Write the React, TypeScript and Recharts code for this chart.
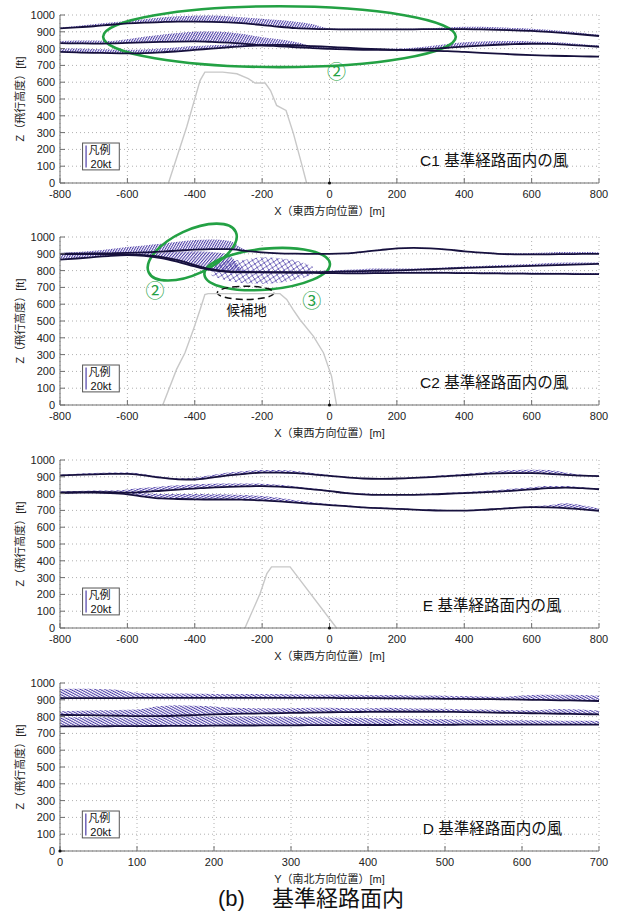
import React from 'react'
import { ComposedChart, Line, Area, XAxis, YAxis, CartesianGrid, ReferenceArea, ReferenceDot } from 'recharts'

const HATCH = '#4d3ea8'
const PATH = '#16103d'
const GREEN = '#23a144'
const TERRAIN = '#c8c8c8'
const AXIS = '#6e6e6e'
const FONT = "'Liberation Sans', 'Noto Sans CJK JP', sans-serif"

const zTicks = [0, 100, 200, 300, 400, 500, 600, 700, 800, 900, 1000]
const ewTicks = [-800, -600, -400, -200, 0, 200, 400, 600, 800]
const nsTicks = [0, 100, 200, 300, 400, 500, 600, 700]

// sample positions along the reference path (m)
const xEW = [-800, -750, -700, -650, -600, -550, -500, -450, -400, -350, -300, -250, -200, -150, -100, -50, 0,
  50, 100, 150, 200, 250, 300, 350, 400, 450, 500, 550, 600, 650, 700, 750, 800]
const xNS = [0, 25, 50, 75, 100, 125, 150, 175, 200, 225, 250, 275, 300, 325, 350, 375, 400, 425, 450, 475, 500,
  525, 550, 575, 600, 625, 650, 675, 700]

// C1: flight altitude (ft) and wind barb tip envelope (ft)
const c1Top = [920, 926, 933, 942, 950, 955, 958, 960, 960, 959, 956, 950, 940, 930, 922, 918, 916, 915, 915, 915, 915, 915, 916, 916, 916, 914, 912, 909, 905, 899, 892, 884, 875]
const c1TopTip = [925, 935, 945, 955, 965, 975, 985, 992, 995, 997, 993, 985, 978, 970, 960, 945, 920, 918, 918, 918, 918, 918, 920, 927, 930, 930, 927, 922, 918, 912, 903, 893, 882]
const c1Mid = [832, 831, 830, 831, 834, 837, 840, 842, 843, 840, 835, 828, 820, 814, 808, 803, 798, 795, 793, 792, 792, 794, 798, 805, 812, 818, 823, 827, 829, 828, 824, 818, 811]
const c1MidTip = [845, 848, 848, 845, 855, 870, 883, 893, 900, 902, 898, 885, 868, 855, 840, 815, 805, 800, 800, 798, 800, 805, 815, 828, 838, 842, 845, 845, 843, 840, 835, 826, 818]
const c1Low = [780, 777, 775, 773, 772, 773, 777, 784, 792, 800, 808, 815, 820, 822, 820, 815, 810, 805, 800, 796, 792, 790, 788, 785, 780, 775, 770, 765, 761, 758, 756, 754, 752]
const c1LowTip = [800, 800, 797, 795, 793, 795, 800, 808, 815, 820, 825, 828, 828, 825, 822, 817, 812, 806, 802, 797, 793, 791, 789, 786, 782, 777, 772, 767, 763, 760, 758, 756, 754]

// C2
const c2Top = [900, 901, 902, 903, 905, 908, 913, 919, 925, 928, 928, 918, 908, 903, 901, 900, 900, 902, 912, 922, 932, 935, 932, 925, 915, 907, 900, 897, 897, 897, 898, 899, 900]
const c2TopTip = [905, 910, 918, 928, 940, 950, 960, 972, 982, 985, 978, 925, 910, 905, 903, 902, 902, 905, 915, 925, 935, 938, 935, 928, 918, 910, 905, 903, 905, 908, 910, 910, 908]
const c2Mid = [898, 898, 898, 897, 896, 892, 882, 862, 833, 808, 795, 792, 791, 791, 791, 791, 792, 795, 797, 799, 801, 804, 808, 812, 816, 819, 822, 825, 828, 831, 834, 837, 840]
const c2MidTip = [905, 906, 906, 905, 903, 905, 908, 912, 915, 910, 895, 800, 798, 798, 798, 797, 800, 805, 810, 812, 812, 812, 815, 820, 825, 828, 832, 836, 840, 845, 848, 848, 848]
const c2Low = [865, 872, 880, 888, 892, 888, 875, 852, 825, 803, 793, 790, 789, 788, 787, 786, 785, 784, 784, 785, 786, 787, 787, 786, 785, 784, 783, 782, 781, 780, 780, 779, 779]
const c2LowTip = [895, 898, 900, 900, 898, 893, 882, 860, 832, 810, 798, 795, 794, 793, 792, 792, 792, 793, 795, 796, 795, 794, 794, 793, 792, 791, 790, 789, 788, 787, 787, 786, 786]
// turbulent area (3) near the landing site
const c2GustX = [-350, -300, -250, -200, -150, -100, -50]
const c2GustLo = [770, 740, 725, 722, 728, 745, 775]
const c2GustHi = [845, 860, 865, 880, 875, 860, 825]

// E
const eTop = [908, 912, 915, 918, 918, 908, 895, 885, 884, 895, 908, 918, 925, 925, 922, 915, 906, 897, 890, 888, 890, 894, 898, 904, 910, 916, 920, 922, 922, 918, 912, 907, 904]
const eTopTip = [912, 918, 922, 925, 925, 915, 900, 892, 895, 910, 925, 935, 940, 940, 935, 922, 910, 900, 893, 891, 893, 898, 903, 910, 917, 926, 935, 940, 942, 940, 925, 912, 908]
const eMid = [805, 808, 810, 808, 806, 810, 817, 824, 830, 836, 840, 843, 845, 842, 835, 825, 815, 803, 795, 792, 792, 793, 795, 799, 803, 807, 812, 818, 825, 832, 836, 832, 826]
const eMidTip = [812, 815, 818, 818, 825, 835, 843, 850, 855, 858, 860, 860, 858, 852, 843, 832, 820, 808, 800, 797, 797, 798, 800, 805, 810, 815, 822, 830, 838, 845, 845, 838, 830]
const eLow = [805, 806, 806, 803, 796, 782, 771, 768, 766, 765, 765, 763, 760, 754, 746, 739, 732, 725, 718, 713, 709, 705, 701, 699, 699, 703, 709, 715, 719, 718, 714, 706, 698]
const eLowTip = [810, 812, 812, 810, 808, 802, 798, 797, 797, 796, 795, 792, 785, 775, 760, 748, 738, 730, 722, 717, 713, 709, 705, 703, 703, 707, 713, 719, 724, 730, 742, 730, 710]

// D (north-south)
const dTop = [910, 910, 910, 910, 911, 911, 911, 911, 912, 912, 912, 912, 912, 911, 911, 910, 910, 909, 908, 907, 906, 905, 904, 903, 901, 899, 897, 895, 893]
const dTopTip = [965, 966, 965, 960, 942, 938, 937, 936, 935, 935, 934, 934, 933, 932, 931, 930, 929, 928, 927, 925, 924, 922, 920, 918, 925, 930, 930, 928, 924]
const dMid = [810, 809, 807, 805, 803, 803, 805, 809, 813, 816, 818, 820, 822, 824, 826, 827, 828, 829, 829, 829, 828, 827, 825, 823, 821, 819, 817, 815, 813]
const dMidTip = [832, 835, 838, 840, 842, 860, 868, 865, 860, 852, 850, 850, 850, 852, 852, 850, 850, 852, 850, 848, 846, 844, 842, 840, 838, 840, 845, 842, 836]
const dLow = [742, 742, 742, 743, 743, 744, 745, 745, 746, 747, 747, 748, 748, 749, 749, 750, 750, 750, 751, 751, 751, 752, 752, 752, 752, 752, 752, 752, 752]
const dLowTip = [795, 796, 796, 795, 794, 795, 798, 800, 800, 800, 800, 799, 798, 796, 795, 793, 792, 790, 788, 786, 784, 782, 780, 779, 778, 777, 776, 775, 774]

// terrain profiles [x, z]
const terrainC1 = [[-478, 0], [-424, 333], [-384, 611], [-370, 660], [-317, 660], [-275, 650], [-241, 621], [-221, 595], [-191, 595], [-175, 550], [-157, 462], [-129, 432], [-107, 294], [-83, 115], [-68, 0]]
const terrainC2 = [[-495, 0], [-454, 212], [-429, 311], [-404, 450], [-384, 568], [-370, 657], [-360, 663], [-147, 663], [-127, 628], [-108, 568], [-88, 509], [-48, 410], [-18, 311], [6, 172], [21, 0]]
const terrainE = [[-251, 0], [-206, 205], [-186, 324], [-172, 364], [-117, 364], [21, 0]]

const line = (xs: number[], z: number[]) => xs.map((x, i) => ({ x, z: z[i] }))
const band = (xs: number[], lo: number[], hi: number[]) => xs.map((x, i) => ({ x, r: [lo[i], hi[i]] }))
const outline = (p: number[][]) => p.map(([x, z]) => ({ x, z }))

function patterns(id: string) {
  const hatch = (name: string, angle: number, gap: number) => (
    <pattern key={name} id={`${id}-${name}`} width={gap} height={8} patternUnits="userSpaceOnUse" patternTransform={`rotate(${angle})`}>
      <line x1={0.5} y1={0} x2={0.5} y2={8} stroke={HATCH} strokeWidth={1.1} />
    </pattern>
  )
  return (
    <defs>
      {hatch('steep', 30, 2.2)}
      {hatch('mid', 40, 2.3)}
      {hatch('flat', 68, 2.2)}
      {hatch('back', -62, 2.3)}
      <pattern id={`${id}-cross`} width={6} height={6} patternUnits="userSpaceOnUse" patternTransform="rotate(12)">
        <path d="M0,0 L6,6 M6,0 L0,6" stroke={HATCH} strokeWidth={0.8} />
      </pattern>
    </defs>
  )
}

const legendBox = (p: any) => (
  <g>
    <rect x={p.x} y={p.y} width={p.width} height={p.height} fill="#fff" stroke="#555" />
    <line x1={p.x + 3.5} x2={p.x + 3.5} y1={p.y + 2.5} y2={p.y + p.height - 2.5} stroke={HATCH} strokeWidth={1.2} />
    <text x={p.x + 6} y={p.y + 11} fontSize={11} fill="#111">凡例</text>
    <text x={p.x + 8} y={p.y + 24.5} fontSize={11} fill="#111" fontFamily="'Liberation Sans', sans-serif">20kt</text>
  </g>
)

const ring = (angle: number, color: string, width: number, dash?: string) => (p: any) => {
  const cx = p.x + p.width / 2
  const cy = p.y + p.height / 2
  return (
    <ellipse cx={cx} cy={cy} rx={Math.abs(p.width) / 2} ry={Math.abs(p.height) / 2} fill="none" stroke={color}
      strokeWidth={width} strokeDasharray={dash} transform={`rotate(${angle} ${cx} ${cy})`} />
  )
}

const note = (key: string, x: number, z: number, text: string, color: string, size: number, position: any = 'center') => (
  <ReferenceDot key={key} x={x} y={z} r={0} fill="none" stroke="none" ifOverflow="visible"
    label={{ value: text, position, offset: 0, fill: color, fontSize: size }} />
)

type PanelProps = {
  id: string
  top: number
  domain: [number, number]
  ticks: number[]
  xTitle: string
  bands: { data: any[]; pat: string }[]
  paths: any[][]
  terrain?: any[]
  legend: [number, number]
  caption: string
  captionX: number
  extras?: React.ReactNode[]
}

function Panel({ id, top, domain, ticks, xTitle, bands, paths, terrain, legend, caption, captionX, extras = [] }: PanelProps) {
  return (
    <div style={{ position: 'absolute', left: 0, top }}>
      <ComposedChart width={618} height={223} margin={{ top: 15, right: 19, bottom: 10, left: 0 }}>
        {patterns(id)}
        <CartesianGrid stroke="#b0b0b0" strokeDasharray="1 3" />
        <XAxis dataKey="x" type="number" domain={domain} ticks={ticks} interval={0} height={30} tickSize={-5} tickMargin={12}
          tick={{ fontSize: 11, fill: '#222' }} stroke={AXIS}
          label={{ value: xTitle, position: 'insideBottom', offset: -2, fontSize: 11, fill: '#222' }} />
        <XAxis xAxisId="top" orientation="top" dataKey="x" type="number" domain={domain} ticks={ticks} interval={0} height={0}
          tickSize={-5} tick={false} stroke={AXIS} />
        <YAxis type="number" domain={[0, 1000]} ticks={zTicks} interval={0} width={60} tickSize={-5} tickMargin={10}
          tick={{ fontSize: 11, fill: '#222' }} stroke={AXIS}
          label={{ value: 'Z（飛行高度）[ft]', angle: -90, position: 'insideLeft', offset: 20, fontSize: 11, fill: '#222', style: { textAnchor: 'middle' } }} />
        <YAxis yAxisId="right" orientation="right" type="number" domain={[0, 1000]} ticks={zTicks} interval={0} width={0}
          tickSize={-5} tick={false} stroke={AXIS} />
        {bands.map((b, i) => (
          <Area key={`b${i}`} data={b.data} dataKey="r" type="monotone" stroke="none" fill={`url(#${id}-${b.pat})`}
            fillOpacity={1} isAnimationActive={false} />
        ))}
        {terrain ? (
          <Line data={terrain} dataKey="z" type="linear" stroke={TERRAIN} strokeWidth={1.4} dot={false} isAnimationActive={false} />
        ) : null}
        {paths.map((d, i) => (
          <Line key={`p${i}`} data={d} dataKey="z" type="monotone" stroke={PATH} strokeWidth={1.8} dot={false} isAnimationActive={false} />
        ))}
        {extras}
        <ReferenceArea x1={legend[0]} x2={legend[1]} y1={78} y2={238} shape={legendBox} />
        {note('cap', captionX, 136, caption, '#111', 15.5, 'right')}
        <ReferenceDot x={0} y={0} r={1.6} fill="#111" stroke="none" />
      </ComposedChart>
    </div>
  )
}

export default function App() {
  return (
    <div style={{ position: 'absolute', left: 0, top: 0, width: 618, height: 914, background: '#fff', fontFamily: FONT }}>
      <Panel id="c1" top={0} domain={[-800, 800]} ticks={ewTicks} xTitle="X（東西方向位置）[m]"
        bands={[
          { data: band(xEW, c1Top, c1TopTip), pat: 'steep' },
          { data: band(xEW, c1Mid, c1MidTip), pat: 'steep' },
          { data: band(xEW, c1Low, c1LowTip), pat: 'steep' },
        ]}
        paths={[line(xEW, c1Top), line(xEW, c1Mid), line(xEW, c1Low)]}
        terrain={outline(terrainC1)} legend={[-733, -624]} caption="C1 基準経路面内の風" captionX={269}
        extras={[
          <ReferenceArea key="e1" x1={-672} x2={375} y1={690} y2={1052} ifOverflow="visible" shape={ring(0, GREEN, 2.6)} />,
          note('n1', 21, 661, '②', GREEN, 19),
        ]} />
      <Panel id="c2" top={222} domain={[-800, 800]} ticks={ewTicks} xTitle="X（東西方向位置）[m]"
        bands={[
          { data: band(xEW, c2Top, c2TopTip), pat: 'steep' },
          { data: band(xEW, c2Mid, c2MidTip), pat: 'mid' },
          { data: band(xEW, c2Low, c2LowTip), pat: 'steep' },
          { data: band(c2GustX, c2GustLo, c2GustHi), pat: 'cross' },
        ]}
        paths={[line(xEW, c2Top), line(xEW, c2Mid), line(xEW, c2Low)]}
        terrain={outline(terrainC2)} legend={[-733, -624]} caption="C2 基準経路面内の風" captionX={269}
        extras={[
          <ReferenceArea key="e2" x1={-550} x2={-265} y1={779} y2={1041} ifOverflow="visible" shape={ring(-25, GREEN, 2.6)} />,
          <ReferenceArea key="e3" x1={-372} x2={2} y1={687} y2={931} ifOverflow="visible" shape={ring(-5, GREEN, 2.6)} />,
          <ReferenceArea key="site" x1={-333} x2={-165} y1={628} y2={707} ifOverflow="visible" shape={ring(0, '#111', 1.5, '7 4')} />,
          note('site-t', -246, 564, '候補地', '#111', 13.5),
          note('n2', -518, 677, '②', GREEN, 19),
          note('n3', -53, 618, '③', GREEN, 19),
        ]} />
      <Panel id="e" top={445} domain={[-800, 800]} ticks={ewTicks} xTitle="X（東西方向位置）[m]"
        bands={[
          { data: band(xEW, eTop, eTopTip), pat: 'flat' },
          { data: band(xEW, eMid, eMidTip), pat: 'flat' },
          { data: band(xEW, eLow, eLowTip), pat: 'flat' },
        ]}
        paths={[line(xEW, eTop), line(xEW, eMid), line(xEW, eLow)]}
        terrain={outline(terrainE)} legend={[-733, -624]} caption="E 基準経路面内の風" captionX={277} />
      <Panel id="d" top={668} domain={[0, 700]} ticks={nsTicks} xTitle="Y（南北方向位置）[m]"
        bands={[
          { data: band(xNS, dTop, dTopTip), pat: 'back' },
          { data: band(xNS, dMid, dMidTip), pat: 'back' },
          { data: band(xNS, dLow, dLowTip), pat: 'back' },
        ]}
        paths={[line(xNS, dTop), line(xNS, dMid), line(xNS, dLow)]}
        legend={[29, 77]} caption="D 基準経路面内の風" captionX={471} />
      <div style={{ position: 'absolute', top: 886, left: 218, fontSize: 22, lineHeight: '26px', color: '#111', whiteSpace: 'nowrap' }}>(b)</div>
      <div style={{ position: 'absolute', top: 886, left: 272, fontSize: 22, lineHeight: '26px', color: '#111', whiteSpace: 'nowrap' }}>基準経路面内</div>
    </div>
  )
}
